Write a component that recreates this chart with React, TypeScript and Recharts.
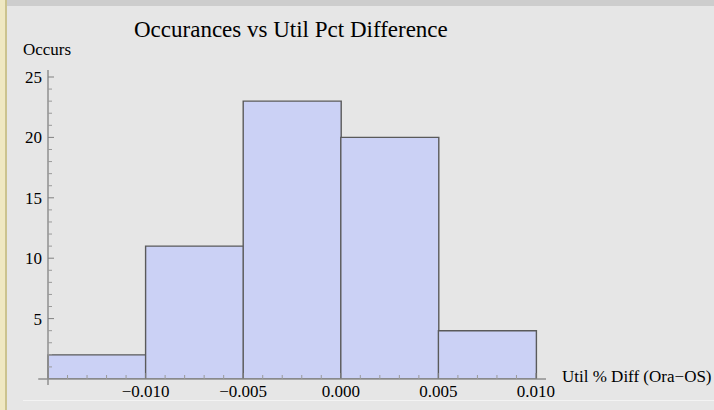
import { BarChart, Bar, XAxis, YAxis, ReferenceLine } from "recharts";

// histogram bins of Util % Diff (Ora-OS) and their counts
const bins = ["-0.015..-0.010", "-0.010..-0.005", "-0.005..0.000", "0.000..0.005", "0.005..0.010"];
const binMids = [-0.0125, -0.0075, -0.0025, 0.0025, 0.0075];
const occurs = [2, 11, 23, 20, 4];

const xMajorTicks = [-0.01, -0.005, 0, 0.005, 0.01];
const xMajorLabels = ["\u22120.010", "\u22120.005", "0.000", "0.005", "0.010"];
const xMinorTicks = [
    -0.014, -0.013, -0.012, -0.011, -0.009, -0.008, -0.007, -0.006, -0.004, -0.003,
    -0.002, -0.001, 0.001, 0.002, 0.003, 0.004, 0.006, 0.007, 0.008, 0.009,
];
const yMajorTicks = [5, 10, 15, 20, 25];
const yMinorTicks = [1, 2, 3, 4, 6, 7, 8, 9, 11, 12, 13, 14, 16, 17, 18, 19, 21, 22, 23, 24];

const X_ORIGIN = -0.015;
const X_MIN_AXIS = -0.0155;
const X_MAX = 0.010513;
const Y_MIN_AXIS = -0.5;
const Y_MAX = 25.58;

const FONT = '"Liberation Serif", "Times New Roman", serif';
const AXIS = "#8f8f8f";

const data = bins.map((bin, i) => ({ bin, mid: binMids[i], occurs: occurs[i] }));

const isMajor = (list: number[], v: number) => list.findIndex((m) => Math.abs(m - v) < 1e-9);

function XTick(props: any) {
    const { x, y, payload } = props;
    const idx = isMajor(xMajorTicks, payload.value);
    const len = idx >= 0 ? 6 : 4;
    return (
        <g>
            <line x1={x} x2={x} y1={y} y2={y - len} stroke={idx >= 0 ? "#808080" : "#9a9a9a"} strokeWidth={1} />
            {idx >= 0 && (
                <text x={x} y={y + 18} textAnchor="middle" style={{ fontFamily: FONT, fontSize: 17 }} fill="#000">
                    {xMajorLabels[idx]}
                </text>
            )}
        </g>
    );
}

function YTick(props: any) {
    const { x, y, payload } = props;
    const idx = isMajor(yMajorTicks, payload.value);
    const len = idx >= 0 ? 6 : 4;
    return (
        <g>
            <line x1={x} x2={x + len} y1={y} y2={y} stroke={idx >= 0 ? "#808080" : "#9a9a9a"} strokeWidth={1} />
            {idx >= 0 && (
                <text x={x - 6} y={y + 6} textAnchor="end" style={{ fontFamily: FONT, fontSize: 17 }} fill="#000">
                    {yMajorTicks[idx]}
                </text>
            )}
        </g>
    );
}

export default function App() {
    const xTicks = [...xMinorTicks, ...xMajorTicks].sort((a, b) => a - b);
    const yTicks = [...yMinorTicks, ...yMajorTicks].sort((a, b) => a - b);

    return (
        <div
            style={{
                position: "absolute",
                left: 0,
                top: 0,
                width: 714,
                height: 410,
                background: "#e6e6e6",
                overflow: "hidden",
            }}
        >
            {/* notebook cell decorations */}
            <div style={{ position: "absolute", left: 7, top: 0, width: 707, height: 6, background: "#cdcdcd" }} />
            <div style={{ position: "absolute", left: 0, top: 0, width: 5, height: 410, background: "#efe8c2" }} />
            <div style={{ position: "absolute", left: 5, top: 0, width: 2, height: 410, background: "#cbc38f" }} />
            <div style={{ position: "absolute", left: 23, top: 400, width: 691, height: 1, background: "#f3f3f3" }} />

            <div style={{ position: "absolute", left: 0, top: 0 }}>
                <BarChart
                    width={714}
                    height={410}
                    data={data}
                    margin={{ top: 70, right: 168, bottom: 30, left: 47 }}
                    barCategoryGap={0}
                    barGap={0}
                >
                    <XAxis
                        xAxisId="num"
                        type="number"
                        dataKey="mid"
                        domain={[X_ORIGIN, X_MAX]}
                        allowDataOverflow
                        ticks={xTicks}
                        interval={0}
                        height={1}
                        tickSize={0}
                        tickMargin={0}
                        axisLine={false}
                        tick={<XTick />}
                    />
                    <XAxis xAxisId="cat" dataKey="bin" hide height={0} padding={{ left: 0, right: 10 }} />
                    <YAxis
                        type="number"
                        domain={[0, Y_MAX]}
                        allowDataOverflow
                        ticks={yTicks}
                        interval={0}
                        width={1}
                        tickSize={0}
                        tickMargin={0}
                        axisLine={false}
                        tick={<YTick />}
                    />
                    <Bar
                        xAxisId="cat"
                        dataKey="occurs"
                        fill="#cbd1f5"
                        stroke="#5a5a5a"
                        strokeWidth={1.4}
                        isAnimationActive={false}
                    />
                    <ReferenceLine
                        xAxisId="num"
                        segment={[
                            { x: X_MIN_AXIS, y: 0 },
                            { x: X_MAX, y: 0 },
                        ]}
                        ifOverflow="visible"
                        stroke={AXIS}
                        strokeWidth={1.5}
                    />
                    <ReferenceLine
                        xAxisId="num"
                        segment={[
                            { x: X_ORIGIN, y: Y_MIN_AXIS },
                            { x: X_ORIGIN, y: Y_MAX },
                        ]}
                        ifOverflow="visible"
                        stroke={AXIS}
                        strokeWidth={1.5}
                    />
                </BarChart>
            </div>

            <svg
                width={714}
                height={410}
                style={{ position: "absolute", left: 0, top: 0, pointerEvents: "none" }}
            >
                <text x={134} y={37} fontFamily={FONT} fontSize={23} fill="#000">
                    Occurances vs Util Pct Difference
                </text>
                <text x={23} y={55} fontFamily={FONT} fontSize={17} fill="#000">
                    Occurs
                </text>
                <text x={562} y={382} fontFamily={FONT} fontSize={17} fill="#000">
                    Util % Diff (Ora{"\u2212"}OS)
                </text>
            </svg>
        </div>
    );
}
